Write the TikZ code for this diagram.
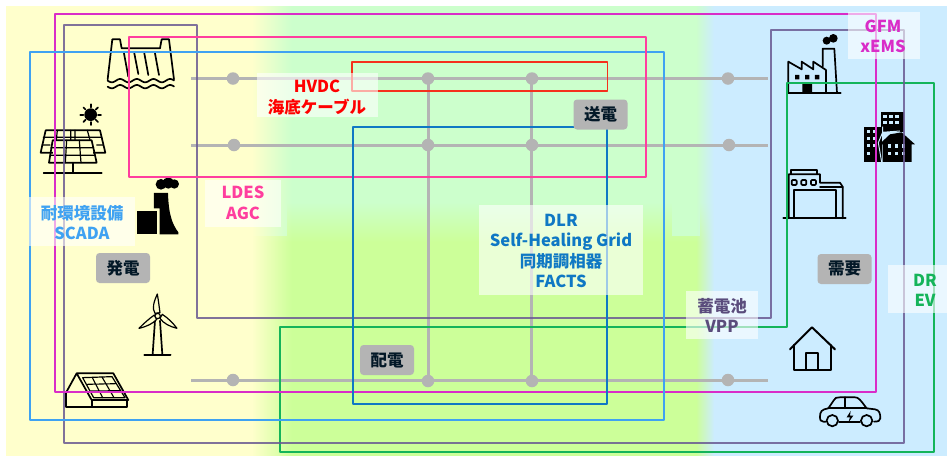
\documentclass[tikz,border=0pt]{standalone}
\usepackage{fontspec}
\newfontfamily\jpf{Noto Sans CJK JP}
\usetikzlibrary{fadings}
\definecolor{cyel}{HTML}{FFFFCC}
\definecolor{cgr1}{HTML}{CCFFCC}
\definecolor{cgr2}{HTML}{CCFF99}
\definecolor{cblu}{HTML}{CCECFF}
\definecolor{cbus}{HTML}{B4B4B4}
\definecolor{cmag}{HTML}{D92CC8}
\definecolor{cpur}{HTML}{6A5A92}
\definecolor{csky}{HTML}{3FA2F2}
\definecolor{cpnk}{HTML}{FF3E9E}
\definecolor{cred}{HTML}{F5301C}
\definecolor{cdbl}{HTML}{0F78C4}
\definecolor{cgrn}{HTML}{14B45A}
\tikzfading[name=fadeR,left color=transparent!0,right color=transparent!100]
\tikzfading[name=fadeL,left color=transparent!100,right color=transparent!0]
\tikzset{
 bus/.style={cbus,line width=3pt},
 busdot/.style={circle,fill=cbus,inner sep=0pt,minimum size=12.5pt},
 frame/.style={line width=1.5pt,line join=round},
 veil/.style={fill=white,fill opacity=.6,inner sep=0pt},
 lab/.style={font={\jpf\bfseries\fontsize{16.5}{20.5}\selectfont},align=center,inner sep=0pt},
 tag/.style={lab,fill=cbus,rounded corners=3.5pt,text=black!80!cdbl,minimum width=54pt,minimum height=30pt},
 ic/.style={black,line width=1.7pt,line join=round,line cap=round},
 icf/.style={fill=black,draw=none},
}
\begin{document}
\begin{tikzpicture}[x=1pt,y=-1pt]
\useasboundingbox (0,0) rectangle (947,456);
% background
\fill[white] (0,0) rectangle (947,456);
\fill[cgr1] (6,6) rectangle (947,202);
\shade[top color=cgr1,bottom color=cgr2,draw=none] (6,202) rectangle (947,242);
\fill[cgr2] (6,242) rectangle (947,456);
\fill[cgr1] (205,200) rectangle (287,236);
\fill[cgr1] (672,200) rectangle (700,236);
\fill[cyel] (6,6) rectangle (252,456);
\fill[cyel,path fading=fadeR] (252,6) rectangle (292,456);
\fill[cblu] (714,6) rectangle (947,456);
\fill[cblu,path fading=fadeL] (696,6) rectangle (714,456);

% icons: dam
\begin{scope}[x=.3333pt,y=-.3333pt]
\draw[ic] (323,238) -- (337,118) -- (360,118) -- (365,145) -- (480,145) -- (485,118) -- (507,118) -- (522,238);
\draw[ic] (372,160)--(385,230) (403,160)--(415,222) (433,160)--(445,225) (465,160)--(477,225);
\draw[ic] plot[domain=323:522,samples=70] (\x,{242+5*sin((\x-323)*7.2)});
\draw[ic] plot[domain=323:522,samples=70] (\x,{260+5*sin((\x-323)*7.2)});
% sun
\fill (272,344) circle (19);
\foreach \a in {0,45,...,315}{\draw[ic] (272,344)++(\a:22) -- ++(\a:9);}
% solar panels
\draw[ic] (137,391)--(300,391)--(316,458)--(122,458)--cycle;
\draw[ic,line width=1.2pt] (172,391)--(165,458) (212,391)--(212,420) (225,391)--(225,420) (262,391)--(270,420) (130,412)--(305,412) (126,435)--(150,435) (290,435)--(310,435);
\fill[cyel] (159,420) rectangle (280,487);
\draw[ic] (158,421)--(275,421)--(290,488)--(147,488)--cycle;
\draw[ic,line width=1.2pt] (200,421)--(196,488) (238,421)--(243,488) (153,443)--(281,443) (150,466)--(286,466);
\draw[ic] (218,488)--(218,518) (131,518)--(305,518);
% thermal plant
\fill[black] (410,632) rectangle (471,703);
\fill[black] (462,579) -- (504,579) .. controls (506,640) and (515,670) .. (535,697) -- (535,703) -- (479,703) -- (479,625) -- (462,625) -- cycle;
\fill (483,553) circle (16) (505,549) circle (17) (523,552) circle (14);
\end{scope}

% wind & solar house
\begin{scope}[shift={(0pt,-230pt)},x=.3333pt,y=-.3333pt]
\draw[ic] (465,272)--(458,373) (480,272)--(487,373) (433,375)--(512,375);
\fill[cyel,draw=black,line width=1.2pt,line join=round] (472,192) .. controls (462,215) and (455,235) .. (465,250) -- (480,248) .. controls (477,225) and (475,210) .. (472,192) -- cycle;
\fill[cyel,draw=black,line width=1.2pt,line join=round] (417,295) .. controls (440,290) and (460,280) .. (470,268) -- (463,255) .. controls (445,268) and (430,282) .. (417,295) -- cycle;
\fill[cyel,draw=black,line width=1.2pt,line join=round] (531,295) .. controls (510,290) and (490,280) .. (480,265) -- (487,253) .. controls (505,265) and (520,280) .. (531,295) -- cycle;
\fill[cyel,draw=black,line width=1.2pt] (473,258) circle (8);
% solar house
\draw[ic] (197,490)--(230,430)--(340,430)--(385,510)--(275,510)--(230,430);
\draw[ic] (197,490)--(197,530)--(275,530)--(275,510);
\draw[ic] (275,530)--(380,530)--(380,510);
\draw[ic,line width=1.2pt] (248,443)--(336,440)--(375,503)--(281,503)--cycle;
\draw[ic,line width=1.1pt] (261,463)--(349,461) (272,483)--(362,482) (277,443)--(308,503) (306,441)--(342,503);
\end{scope}

% factory, building, warehouse
\begin{scope}[shift={(700pt,0pt)},x=.3333pt,y=-.3333pt]
\draw[ic] (265,278)--(265,185)--(305,208)--(305,185)--(340,208)--(340,185)--(378,210)--(378,278);
\draw[ic] (368,200)--(368,146)--(403,146)--(411,278);
\draw[ic] (265,278)--(422,278);
\fill (285,225) rectangle (298,238) (315,225) rectangle (328,238) (345,225) rectangle (358,238) (307,252) rectangle (336,278);
\fill (380,122) circle (12) (400,115) circle (13);
% buildings
\fill (543,337) rectangle (612,395);
\fill (491,380) rectangle (545,486);
\fill (605,397) -- (645,433) -- (635,433) -- (635,486) -- (548,486) -- (548,433) -- (538,433) -- (570,403) -- cycle;
\draw[cblu,line width=1pt] (548,397)--(600,393) (548,380)--(548,397) -- (535,428) -- (545,486);
\foreach \p in {(555,350),(573,350),(591,350),(555,368),(573,368),(591,368),(505,395),(525,395),(505,415),(525,415),(505,437),(525,437),(505,460),(568,438),(590,438),(610,438),(568,460),(590,460),(610,460)}{\fill[cblu] \p ++(-4.5,-4.5) rectangle ++(10,10);}
% warehouse
\draw[ic] (250,655)--(437,655);
\draw[ic] (266,655)--(266,523)--(360,523)--(360,548)--(420,548)--(428,560)--(428,655);
\draw[ic] (272,523)--(272,510)--(350,510)--(350,523);
\draw[ic] (360,560)--(428,560);
\draw[ic] (282,655)--(282,570)--(408,570)--(408,655);
\draw[ic,rounded corners=1pt] (275,540) rectangle (290,555) (304,540) rectangle (319,555) (333,540) rectangle (348,555);
\end{scope}

% home & car
\begin{scope}[shift={(660pt,-230pt)},x=.3333pt,y=-.3333pt]
\draw[ic,line width=2pt] (390,358)--(456,292)--(525,358);
\draw[ic,line width=2pt] (402,345)--(402,420)--(512,420)--(512,345);
\draw[ic,line width=2pt] (437,420)--(437,370)--(474,370)--(474,420);
\draw[ic] (497,575) -- (490,575) .. controls (482,575) and (480,570) .. (480,560) .. controls (480,545) and (485,538) .. (505,535) -- (522,510) .. controls (525,503) and (530,502) .. (540,502) -- (585,502) .. controls (595,502) and (600,508) .. (620,535) -- (645,538) .. controls (658,540) and (661,550) .. (661,565) .. controls (661,572) and (655,575) .. (642,575);
\draw[ic] (537,575)--(600,575) (505,535)--(620,535) (554,502)--(554,535);
\draw[ic] (517,572) circle (17) (620,572) circle (17);
\fill (572,543) -- (560,562) -- (570,562) -- (565,578) -- (580,557) -- (570,557) -- cycle;
\end{scope}

% bus lines
\coordinate (a1) at (191,78.5); \coordinate (a2) at (768,78.5);
\coordinate (b1) at (191,145); \coordinate (b2) at (768,145);
\coordinate (c1) at (191,380); \coordinate (c2) at (768,380);
\draw[bus] (a1)--(a2);
\draw[bus] (b1)--(b2);
\draw[bus] (c1)--(c2);
\coordinate (v1t) at (428,78.5); \coordinate (v1b) at (428,380);
\coordinate (v2t) at (531.5,78.5); \coordinate (v2b) at (531.5,380);
\draw[bus] (v1t)--(v1b);
\draw[bus] (v2t)--(v2b);
\foreach \n/\x/\y in {p1/233/78.5,p2/428/78.5,p3/532/78.5,p4/728/78.5,q1/234/145,q2/428/145,q3/532/145,q4/729/145,r1/233/380,r2/428/381,r3/532/381,r4/728/380}{\node[busdot] (\n) at (\x,\y) {};}

% frames
\draw[frame,cgrn] (280,327)--(787,327)--(787,83)--(934,83)--(934,452)--(280,452)--cycle;
\draw[frame,cpur,opacity=.85] (64,25)--(197,25)--(197,318)--(771,318)--(771,30)--(904,30)--(904,443)--(64,443)--cycle;
\draw[frame,cmag] (55,14) rectangle (876,392);
\draw[frame,csky] (30,52) rectangle (664,420);
\draw[frame,cpnk] (129,37) rectangle (646,177);
\draw[frame,cred] (352,62) rectangle (607.5,91);
\draw[frame,cdbl] (353,127) rectangle (607,404);

% labels
\foreach \x/\y/\X/\Y in {257/73/378/117,205/180/281/227,29/197/135/246,479/205/643/295,848/12/920/59,888/265/947/313,686/291/758/339}{\fill[veil] (\x,\y) rectangle (\X,\Y);}
\node[lab,text=red] (hv) at (317,97.5) {HVDC\\海底ケーブル};
\node[lab,text=cpnk] (ld) at (243,203) {LDES\\AGC};
\node[lab,text=csky] (sc) at (82,222.5) {耐環境設備\\SCADA};
\node[lab,text=cdbl] (dl) at (561,251) {DLR\\Self-Healing Grid\\同期調相器\\FACTS};
\node[lab,text=cmag] (gf) at (883,36.5) {GFM\\xEMS};
\node[lab,text=cgrn] (dr) at (925,290.5) {DR\\EV};
\node[lab,text=cpur!85!black] (vp) at (722,315.5) {蓄電池\\VPP};
\node[tag] (t1) at (123,268) {発電};
\node[tag] (t2) at (600.5,114.5) {送電};
\node[tag] (t3) at (844.5,269) {需要};
\node[tag] (t4) at (387,360) {配電};
\end{tikzpicture}
\end{document}
